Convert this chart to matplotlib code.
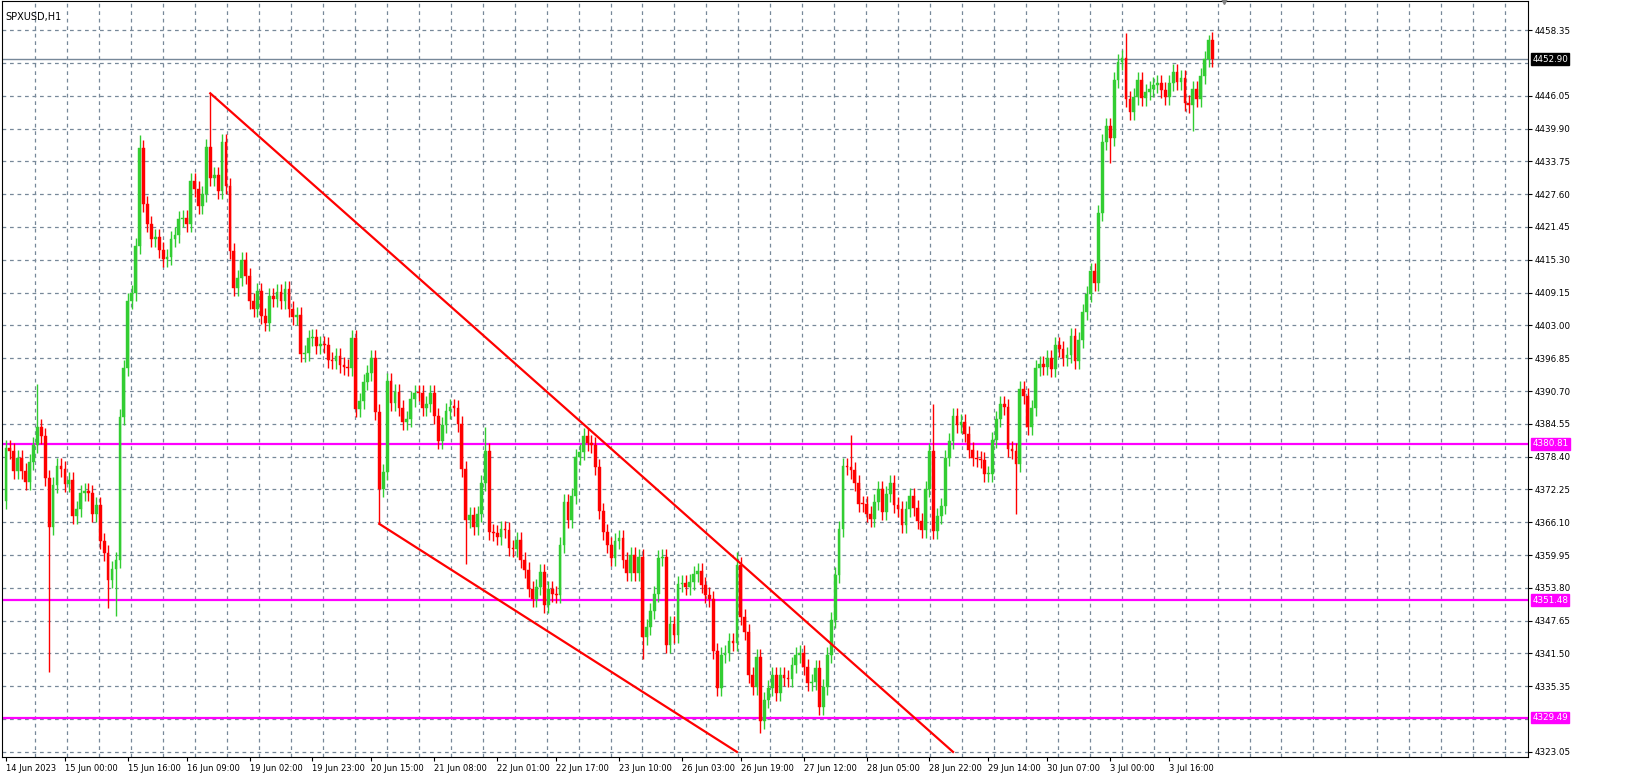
import matplotlib
matplotlib.use("Agg")
import matplotlib.pyplot as plt
import numpy as np

symbol = "SPXUSD,H1"
open0 = 4370.0
closes = [
4380.1,4379.5,4375.7,4378.1,4375.7,4373.7,4377.4,4380.5,4383.9,4382.2,
4374.4,4365.2,4373.0,4376.7,4376.0,4373.3,4374.0,4367.2,4368.6,4371.6,
4372.0,4371.6,4367.6,4369.3,4362.5,4360.4,4355.3,4357.4,4359.1,4385.9,
4395.1,4407.5,4409.0,4417.9,4436.2,4425.7,4422.0,4419.2,4419.6,4417.2,
4415.5,4415.8,4419.2,4419.9,4423.0,4423.1,4422.0,4430.1,4428.6,4425.4,
4427.7,4436.4,4430.7,4431.1,4428.2,4437.3,4429.1,4416.9,4410.1,4411.8,
4415.2,4412.2,4407.5,4406.1,4409.4,4404.8,4403.5,4408.5,4408.0,4409.2,
4407.5,4409.9,4406.1,4404.6,4405.0,
4397.7,4397.9,4400.7,4400.8,4399.2,4399.5,4399.4,4396.5,4396.4,4397.2,
4395.6,4395.2,4395.0,4400.6,4387.3,4388.9,4392.3,4394.0,4396.9,4386.7,
4372.4,4375.6,4392.5,4388.5,4390.6,4387.6,4384.8,4385.5,4389.2,4390.4,
4390.3,4387.6,4388.2,4390.3,4386.1,4381.3,4384.3,4387.0,4387.7,4387.6,
4384.6,4376.1,4366.5,4367.4,4365.2,4367.7,4373.5,4379.5,4364.3,4364.0,
4363.4,4364.9,4364.6,4361.3,4361.0,4362.8,4359.0,4357.1,4353.5,4351.7,
4354.0,4356.8,4350.5,4353.6,4352.6,4352.4,4361.9,4369.9,4366.6,4371.1,
4378.3,4379.2,4382.2,4381.0,4380.6,
4376.4,4368.3,4364.3,4361.8,4359.4,4362.5,4363.1,4359.1,4356.6,4360.0,
4356.5,4359.6,4344.5,4346.4,4349.5,4352.6,4359.4,4359.6,4343.0,4347.0,
4344.9,4354.6,4354.7,4353.9,4354.9,4356.4,4357.0,4354.3,4352.5,4351.8,
4342.0,4335.0,4341.2,4341.5,4343.9,4343.4,4358.0,4348.3,4345.5,4337.5,
4335.3,4340.8,4328.8,4332.8,4335.0,4337.4,4334.1,4337.4,4337.0,4336.8,
4339.3,4341.2,4341.6,4339.0,4336.0,4336.1,4338.7,4331.4,4335.3,4341.2,
4347.8,4356.3,4364.9,4376.7,4376.4,4375.8,4373.5,4369.6,4369.5,4367.7,
4366.8,4369.9,4372.3,4368.0,4371.4,
4373.5,4369.4,4368.6,4365.6,4368.5,4371.0,4368.8,4366.3,4364.6,4372.3,
4379.4,4364.5,4367.3,4369.1,4378.2,4381.3,4386.0,4384.4,4384.9,4382.7,
4379.7,4378.2,4377.9,4377.8,4375.1,4375.2,4381.6,4385.4,4388.2,4387.7,
4379.9,4379.4,4377.1,4391.0,4389.7,4384.0,4387.5,4395.0,4395.7,4395.2,
4396.9,4394.9,4399.3,4398.6,4396.8,4397.5,4401.1,4396.3,4400.2,4405.6,
4408.8,4413.1,4411.0,4424.1,4437.3,4440.4,4438.1,4448.9,4452.3,4453.2,
4445.4,4443.0,4445.9,4449.0,4445.6,4446.7,4447.3,4448.1,4448.5,4447.2,
4445.9,4448.5,4450.4,4448.7,4449.3,4444.7,4444.4,4447.3,4445.4,4449.7,
4452.9,4456.5,4452.9]

# notable wick extremes: bar -> (high, low)
highs_known = {8: 4392.0, 34: 4438.6, 52: 4446.5, 122: 4384.0, 186: 4360.5,
               215: 4382.4, 236: 4388.2, 285: 4457.8, 306: 4457.5}
lows_known = {11: 4338.0, 26: 4350.0, 28: 4348.5, 95: 4365.8, 117: 4358.3,
              162: 4340.5, 192: 4326.6, 257: 4367.6, 281: 4433.4, 302: 4439.4}

hlines = [4380.81, 4351.48, 4329.49]
current = 4452.90
yticks = [4458.35, 4446.05, 4439.90, 4433.75, 4427.60, 4421.45, 4415.30, 4409.15,
          4403.00, 4396.85, 4390.70, 4384.55, 4378.40, 4372.25, 4366.10, 4359.95,
          4353.80, 4347.65, 4341.50, 4335.35, 4323.05]
grid_y = [4458.35 - 6.15 * k for k in range(23)]
xlabels = ["14 Jun 2023", "15 Jun 00:00", "15 Jun 16:00", "16 Jun 09:00", "19 Jun 02:00",
           "19 Jun 23:00", "20 Jun 15:00", "21 Jun 08:00", "22 Jun 01:00", "22 Jun 17:00",
           "23 Jun 10:00", "26 Jun 03:00", "26 Jun 19:00", "27 Jun 12:00", "28 Jun 05:00",
           "28 Jun 22:00", "29 Jun 14:00", "30 Jun 07:00", "3 Jul 00:00", "3 Jul 16:00"]
xlabel_bars = [0, 15, 31, 46, 62, 78, 93, 109, 125, 140, 156, 172, 187, 203, 219,
               235, 250, 265, 281, 296]
upper_line = ((52, 4446.5), (241, 4323.05))
lower_line = ((95, 4365.8), (186, 4323.05))

n = len(closes)
opens = [open0] + closes[:-1]
x = np.arange(n)
hi = [highs_known.get(i, max(o, c) + 1.5) for i, (o, c) in enumerate(zip(opens, closes))]
lo = [lows_known.get(i, min(o, c) - 1.5) for i, (o, c) in enumerate(zip(opens, closes))]

fig = plt.figure(figsize=(16.39, 7.78), dpi=100)
ax = fig.add_axes([2/1639, 21/778, 1526/1639, 756/778])
ymin, ymax = 4322.1, 4463.8
ax.set_ylim(ymin, ymax)
ax.set_xlim(-1, -1 + 1526/3.93)

for gy in grid_y:
    ax.axhline(gy, color="#778899", lw=0.9, ls=(0, (3, 3)), zorder=0)
for gx in np.arange(7.5, 400, 8.13):
    ax.axvline(gx, color="#778899", lw=0.9, ls=(0, (3, 3)), zorder=0)

green, red = "#32CD32", "#FF0000"
cols = [green if c >= o else red for o, c in zip(opens, closes)]
ax.vlines(x, lo, hi, colors=cols, lw=1.0, zorder=3)
bottoms = [min(o, c) for o, c in zip(opens, closes)]
heights = [max(abs(c - o), 0.2) for o, c in zip(opens, closes)]
ax.bar(x, heights, bottom=bottoms, width=0.7, color=cols, edgecolor=cols, lw=0.3, zorder=4)

for h in hlines:
    ax.axhline(h, color="#FF00FF", lw=1.6, zorder=2)
ax.axhline(current, color="#778899", lw=1.0, zorder=2)
for (x0, y0), (x1, y1) in (upper_line, lower_line):
    ax.plot([x0, x1], [y0, y1], color=red, lw=1.6, zorder=5)

# chart shift marker at top
ax.plot([n + 2], [ymax], marker="v", color="#808080", ms=5, clip_on=False, zorder=6)

ax.yaxis.tick_right()
ax.set_yticks(yticks)
ax.set_yticklabels([f"{v:.2f}" for v in yticks], fontsize=6.3)
ax.tick_params(axis="y", length=3, pad=2)
ax.set_xticks(xlabel_bars)
ax.set_xticklabels(xlabels, fontsize=6.0, ha="left")
ax.tick_params(axis="x", length=3, pad=2)
for s in ax.spines.values():
    s.set_color("black")

def tag(v, fc, tc):
    ax.annotate(f"{v:.2f}", xy=(1, v), xycoords=("axes fraction", "data"),
                xytext=(3, 0), textcoords="offset points", fontsize=6.3, color=tc,
                va="center", ha="left",
                bbox=dict(boxstyle="square,pad=0.15", fc=fc, ec=fc))
for h in hlines:
    tag(h, "#FF00FF", "white")
tag(current, "black", "white")

ax.text(0.002, 0.985, symbol, transform=ax.transAxes, fontsize=7, va="top", ha="left")
fig.savefig("out.png", dpi=100)
